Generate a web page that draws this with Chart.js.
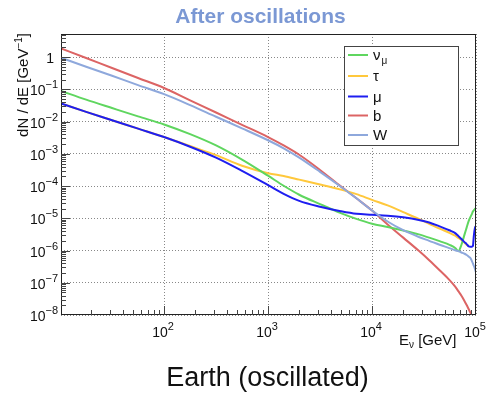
<!DOCTYPE html>
<html>
<head>
<meta charset="utf-8">
<script src="https://cdn.jsdelivr.net/npm/chart.js@4"></script>
<style>
  html, body { margin: 0; padding: 0; background: #fff; }
  #wrap { position: relative; width: 490px; height: 394px; overflow: hidden; }
  #plot { position: absolute; left: 0; top: 0; }
  .txt { position: absolute; font-family: "Liberation Sans", Arial, sans-serif; white-space: nowrap; }
  #title { left: 0; top: 5px; width: 521px; text-align: center; font-weight: bold; font-size: 21px; line-height: 21px; color: #7b98d4; }
  #caption { left: 0; top: 364px; width: 535px; text-align: center; font-size: 27px; line-height: 27px; color: #111; }
</style>
</head>
<body>
<div id="wrap">
  <canvas id="plot" width="490" height="394"></canvas>
  <div id="title" class="txt">After oscillations</div>
  <div id="caption" class="txt">Earth (oscillated)</div>
</div>
<script>
// energies in GeV
const energy = [10.2, 17.8, 31.6, 56.2, 100, 178, 316, 562, 1000, 1413, 1995, 3162, 5012, 7079,
    10000, 14125, 19953, 28184, 35481, 44668, 56234, 63096, 67608, 72444, 77625, 81283, 85114,
    88105, 91201, 93325, 95499, 97724, 100000];

// dN/dE [GeV^-1] per channel
const nuMu = [8.91e-2, 4.79e-2, 2.63e-2, 1.45e-2, 8.13e-3, 4.07e-3, 1.82e-3, 6.61e-4, 2.09e-4, 1.02e-4,
    5.37e-5, 2.75e-5, 1.45e-5, 9.55e-6, 6.76e-6, 5.37e-6, 4.17e-6, 3.16e-6, 2.51e-6, 1.95e-6, 1.48e-6,
    1.20e-6, 9.55e-7, 1.51e-6, 3.16e-6, 5.13e-6, 8.32e-6, 1.07e-5, 1.35e-5, 1.62e-5, 1.78e-5, 1.95e-5, 2.09e-5];
const tau = [3.63e-2, 2.00e-2, 1.10e-2, 6.03e-3, 3.31e-3, 1.74e-3, 9.12e-4, 4.27e-4, 2.51e-4, 2.04e-4,
    1.58e-4, 1.12e-4, 7.76e-5, 5.62e-5, 3.72e-5, 2.51e-5, 1.55e-5, 9.55e-6, 6.76e-6, 4.79e-6, 3.47e-6,
    2.88e-6, 2.45e-6, 2.14e-6, 1.74e-6, 1.51e-6, 1.35e-6, null, null, null, null, null, null];
const mu = [3.63e-2, 2.00e-2, 1.10e-2, 6.03e-3, 3.31e-3, 1.66e-3, 7.59e-4, 2.95e-4, 1.07e-4, 5.75e-5,
    3.47e-5, 2.29e-5, 1.66e-5, 1.38e-5, 1.29e-5, 1.20e-5, 1.07e-5, 8.91e-6, 7.41e-6, 5.62e-6, 4.17e-6,
    3.47e-6, 2.82e-6, 2.29e-6, 1.82e-6, 1.58e-6, 1.35e-6, 1.32e-6, 1.32e-6, 1.38e-6, 3.02e-6, 5.01e-6, 5.75e-6];
const bQuark = [1.86, 0.933, 0.457, 0.224, 0.110, 4.57e-2, 1.91e-2, 7.94e-3, 3.31e-3, 1.82e-3,
    9.33e-4, 3.16e-4, 9.77e-5, 4.17e-5, 1.74e-5, 6.46e-6, 2.51e-6, 9.77e-7, 5.01e-7, 2.45e-7, 1.17e-7,
    7.59e-8, 5.50e-8, 3.98e-8, 2.69e-8, 2.04e-8, 1.51e-8, 1.20e-8, 9.33e-9, 7.94e-9, 6.31e-9, 5.01e-9, 3.98e-9];
const wBoson = [0.955, 0.501, 0.263, 0.135, 7.08e-2, 3.24e-2, 1.41e-2, 6.17e-3, 2.63e-3, 1.48e-3,
    7.59e-4, 2.75e-4, 9.55e-5, 4.17e-5, 1.74e-5, 7.94e-6, 4.27e-6, 2.63e-6, 2.00e-6, 1.51e-6, 1.17e-6,
    1.02e-6, 9.55e-7, 8.71e-7, 7.94e-7, 7.24e-7, 6.46e-7, 5.89e-7, 4.79e-7, 3.98e-7, 3.31e-7, 2.69e-7, 2.09e-7];

// tick labels: powers of ten
const xTickExps = [2, 3, 4, 5];
const yTickExps = [0, -1, -2, -3, -4, -5, -6, -7, -8];

const legendItems = [
    { main: 'ν', sub: 'μ', color: '#5fd65f' },
    { main: 'τ', sub: '', color: '#ffc83c' },
    { main: 'μ', sub: '', color: '#1e1ef0' },
    { main: 'b', sub: '', color: '#dc6464' },
    { main: 'W', sub: '', color: '#8ea8dc' }
];

const FONT = '"Liberation Sans", Arial, sans-serif';

function toPoints(vals) {
    return energy.map((e, i) => ({ x: e, y: vals[i] }));
}

function mantissa(v) {
    const p = Math.floor(Math.log10(v) + 1e-9);
    return v / Math.pow(10, p);
}
function isDecade(v) {
    return Math.abs(mantissa(v) - 1) < 1e-6;
}
function isWhole(v) {
    const m = mantissa(v);
    return Math.abs(m - Math.round(m)) < 1e-6;
}

function makeSet(label, vals, color, order) {
    return {
        label: label,
        data: toPoints(vals),
        borderColor: color,
        borderWidth: 2,
        pointRadius: 0,
        fill: false,
        spanGaps: false,
        cubicInterpolationMode: 'monotone',
        order: order
    };
}

// frame, inner ticks, labels, axis titles and legend in ROOT style
const decorations = {
    id: 'decorations',
    afterDraw(chart) {
        const ctx = chart.ctx;
        const a = chart.chartArea;
        const x = chart.scales.x;
        const y = chart.scales.y;
        ctx.save();

        ctx.strokeStyle = '#222';
        ctx.lineWidth = 1;
        ctx.strokeRect(a.left + 0.5, a.top + 0.5, a.right - a.left - 1, a.bottom - a.top - 1);

        ctx.strokeStyle = '#444';
        ctx.beginPath();
        y.ticks.forEach(t => {
            if (!isWhole(t.value)) return;
            const py = Math.round(y.getPixelForValue(t.value)) + 0.5;
            if (py < a.top + 1 || py > a.bottom - 1) return;
            const len = isDecade(t.value) ? 9 : 5;
            ctx.moveTo(a.left, py);
            ctx.lineTo(a.left + len, py);
        });
        x.ticks.forEach(t => {
            if (!isWhole(t.value)) return;
            const px = Math.round(x.getPixelForValue(t.value)) + 0.5;
            if (px < a.left + 1 || px > a.right - 1) return;
            const len = isDecade(t.value) ? 9 : 5;
            ctx.moveTo(px, a.bottom);
            ctx.lineTo(px, a.bottom - len);
        });
        ctx.stroke();

        ctx.fillStyle = '#111';
        ctx.textBaseline = 'alphabetic';
        ctx.textAlign = 'left';
        const big = '14px ' + FONT;
        const small = '11px ' + FONT;

        yTickExps.forEach(e => {
            const py = y.getPixelForValue(Math.pow(10, e));
            if (e === 0) {
                ctx.font = big;
                const w = ctx.measureText('1').width;
                ctx.fillText('1', 54 - w, py + 6);
                return;
            }
            const sup = '−' + Math.abs(e);
            ctx.font = big;
            const w10 = ctx.measureText('10').width;
            ctx.font = small;
            const ws = ctx.measureText(sup).width;
            const start = 58 - w10 - ws;
            ctx.font = big;
            ctx.fillText('10', start, py + 6);
            ctx.font = small;
            ctx.fillText(sup, start + w10, py - 1);
        });

        xTickExps.forEach(e => {
            const px = x.getPixelForValue(Math.pow(10, e));
            const sup = String(e);
            ctx.font = big;
            const w10 = ctx.measureText('10').width;
            ctx.font = small;
            const ws = ctx.measureText(sup).width;
            const start = px - 1 - (w10 + ws) / 2;
            ctx.font = big;
            ctx.fillText('10', start, a.bottom + 22);
            ctx.font = small;
            ctx.fillText(sup, start + w10, a.bottom + 15);
        });

        // x title
        const tfont = '15px ' + FONT;
        ctx.font = tfont;
        let cx = 399;
        ctx.fillText('E', cx, 344.5);
        cx += ctx.measureText('E').width;
        ctx.font = '10px ' + FONT;
        ctx.fillText('ν', cx, 347.5);
        cx += ctx.measureText('ν').width;
        ctx.font = tfont;
        ctx.fillText(' [GeV]', cx, 344.5);

        // y title, rotated, ending at the top of the frame
        ctx.save();
        ctx.translate(28, 33);
        ctx.rotate(-Math.PI / 2);
        ctx.font = tfont;
        const p1 = 'dN / dE [GeV';
        const w1 = ctx.measureText(p1).width;
        const w3 = ctx.measureText(']').width;
        ctx.font = '10px ' + FONT;
        const w2 = ctx.measureText('−1').width;
        let sx = -(w1 + w2 + w3);
        ctx.font = tfont;
        ctx.fillText(p1, sx, 0);
        sx += w1;
        ctx.font = '10px ' + FONT;
        ctx.fillText('−1', sx, -6);
        sx += w2;
        ctx.font = tfont;
        ctx.fillText(']', sx, 0);
        ctx.restore();

        // legend
        ctx.fillStyle = '#fff';
        ctx.fillRect(344.5, 46.5, 114, 99);
        ctx.strokeStyle = '#444';
        ctx.lineWidth = 1;
        ctx.strokeRect(344.5, 46.5, 114, 99);
        const rows = [55, 76, 96.5, 115.5, 135];
        legendItems.forEach((it, i) => {
            const ry = rows[i];
            ctx.strokeStyle = it.color;
            ctx.lineWidth = 2;
            ctx.beginPath();
            ctx.moveTo(348, ry);
            ctx.lineTo(368, ry);
            ctx.stroke();
            ctx.fillStyle = '#111';
            ctx.font = tfont;
            ctx.fillText(it.main, 373, ry + 5);
            if (it.sub) {
                const wm = ctx.measureText(it.main).width;
                ctx.font = '10px ' + FONT;
                ctx.fillText(it.sub, 373 + wm + 1, ry + 9);
            }
        });

        ctx.restore();
    }
};

const gridColor = function(c) {
    return c.tick && isDecade(c.tick.value) ? '#888' : 'rgba(0,0,0,0)';
};

new Chart(document.getElementById('plot').getContext('2d'), {
    type: 'line',
    data: {
        datasets: [
            makeSet('νμ', nuMu, legendItems[0].color, 3),
            makeSet('τ', tau, legendItems[1].color, 4),
            makeSet('μ', mu, legendItems[2].color, 2),
            makeSet('b', bQuark, legendItems[3].color, 5),
            makeSet('W', wBoson, legendItems[4].color, 1)
        ]
    },
    options: {
        responsive: false,
        animation: false,
        layout: { padding: { left: 61, top: 34, right: 14, bottom: 79 } },
        plugins: {
            legend: { display: false },
            tooltip: { enabled: false },
            title: { display: false }
        },
        scales: {
            x: {
                type: 'logarithmic',
                min: 10.2,
                max: 100000,
                ticks: { display: false },
                grid: { color: gridColor, lineWidth: 1, drawTicks: false },
                border: { display: false, dash: [1, 2] },
                afterFit: function(s) { s.height = 0; }
            },
            y: {
                type: 'logarithmic',
                min: 1e-8,
                max: 5.2,
                ticks: { display: false },
                grid: { color: gridColor, lineWidth: 1, drawTicks: false },
                border: { display: false, dash: [1, 2] },
                afterFit: function(s) { s.width = 0; }
            }
        }
    },
    plugins: [decorations]
});
</script>
</body>
</html>
